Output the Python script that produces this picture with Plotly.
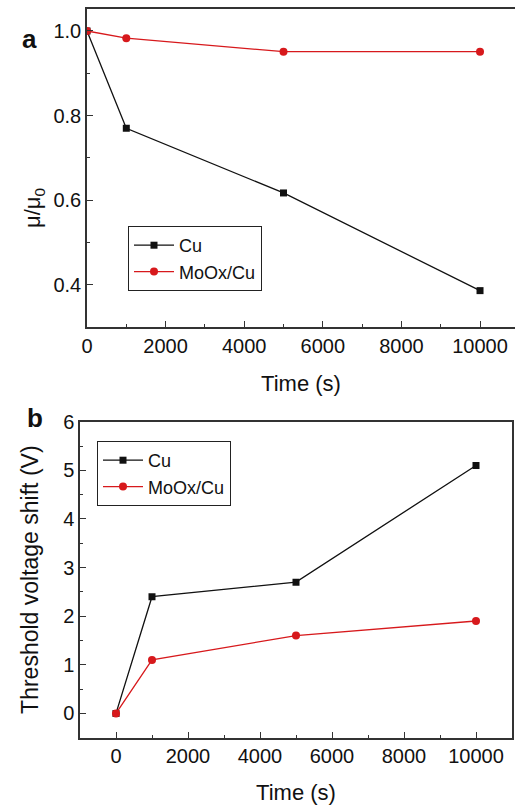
import plotly.graph_objects as go

# Panel a data
time_a = [0, 1000, 5000, 10000]
cu_mu = [1.0, 0.77, 0.617, 0.386]
moox_mu = [1.0, 0.983, 0.951, 0.951]

# Panel b data
time_b = [0, 1000, 5000, 10000]
cu_vth = [0.0, 2.4, 2.7, 5.1]
moox_vth = [0.0, 1.1, 1.6, 1.9]

series_names = ["Cu", "MoOx/Cu"]
W, H = 515, 805
BLACK = "#111111"
RED = "#d7191c"
AX = "#333333"

fig = go.Figure()

def add_pair(x, y1, y2, xa, ya, leg):
    fig.add_trace(go.Scatter(x=x, y=y1, mode="lines+markers", name=series_names[0],
                             line=dict(color=BLACK, width=1.3),
                             marker=dict(symbol="square", size=7, color=BLACK),
                             xaxis=xa, yaxis=ya, legend=leg))
    fig.add_trace(go.Scatter(x=x, y=y2, mode="lines+markers", name=series_names[1],
                             line=dict(color=RED, width=1.3),
                             marker=dict(symbol="circle", size=8, color=RED),
                             xaxis=xa, yaxis=ya, legend=leg))

add_pair(time_a, cu_mu, moox_mu, "x", "y", "legend")
add_pair(time_b, cu_vth, moox_vth, "x2", "y2", "legend2")

font = dict(family="Liberation Sans, Arial, sans-serif", color="#111111")

axis_common = dict(showline=True, linecolor=AX, linewidth=1.5, mirror=True,
                   ticks="inside", tickcolor=AX, ticklen=6, tickwidth=1.3,
                   showgrid=False, zeroline=False, automargin=False,
                   tickfont=dict(size=20, **font))
minor_common = dict(ticks="inside", ticklen=3, tickcolor=AX, tickwidth=1.2)

fig.update_layout(
    width=W, height=H, margin=dict(l=0, r=0, t=0, b=0),
    paper_bgcolor="white", plot_bgcolor="white", font=font,
    xaxis=dict(domain=[87/W, 1.0], range=[0, 10890], dtick=2000, tick0=0,
               tickformat="d", minor=dict(dtick=1000, **minor_common),
               title=dict(text="Time (s)", font=dict(size=22, **font), standoff=20),
               anchor="y", **axis_common),
    yaxis=dict(domain=[1-327/H, 1-9/H], range=[0.30, 1.052], dtick=0.2, tick0=0.4,
               tickformat=".1f", minor=dict(dtick=0.1, **minor_common),
               anchor="x", **axis_common),
    xaxis2=dict(domain=[80/W, 512/W], range=[-1000, 11000], dtick=2000, tick0=0,
                tickformat="d", minor=dict(dtick=1000, **minor_common),
                title=dict(text="Time (s)", font=dict(size=22, **font), standoff=20),
                anchor="y2", **axis_common),
    yaxis2=dict(domain=[1-737.7/H, 1-421.7/H], range=[-0.5, 6], dtick=1, tick0=0,
                minor=dict(dtick=0.5, **minor_common),
                title=dict(text="Threshold voltage shift (V)", font=dict(size=23, **font), standoff=18),
                anchor="x2", **axis_common),
    legend=dict(x=128/W, y=1-226/H, xanchor="left", yanchor="top",
                bordercolor="#222222", borderwidth=1, bgcolor="white",
                font=dict(size=18, **font), tracegroupgap=0, itemwidth=40),
    legend2=dict(x=97/W, y=1-441/H, xanchor="left", yanchor="top",
                 bordercolor="#222222", borderwidth=1, bgcolor="white",
                 font=dict(size=18, **font), tracegroupgap=0, itemwidth=40),
    annotations=[
        dict(text="<b>a</b>", x=20/W, y=1-22/H, xref="paper", yref="paper",
             showarrow=False, font=dict(size=26, **font)),
        dict(text="<b>b</b>", x=25/W, y=1-418/H, xref="paper", yref="paper",
             showarrow=False, font=dict(size=26, **font)),
        dict(text="μ/μ<sub>0</sub>", x=18/W, y=1-186/H, xref="paper", yref="paper",
             showarrow=False, textangle=-90, font=dict(size=22, **font)),
    ],
)

fig.write_html("out.html", config={"displayModeBar": False},
               post_script="document.body.style.margin='0';document.body.style.overflow='hidden';")
